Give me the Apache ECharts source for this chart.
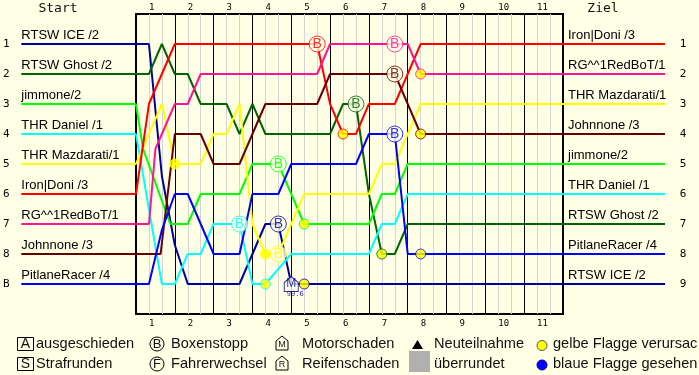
<!DOCTYPE html>
<html><head><meta charset="utf-8">
<script src="https://cdn.jsdelivr.net/npm/echarts@6/dist/echarts.min.js"></script>
<style>html,body{margin:0;padding:0;background:#ffffe6;}#c{width:699px;height:375px;}</style>
</head><body><div id="c"></div>
<script>
// ---------- DATA ----------
const lapLabels = ['1','2','3','4','5','6','7','8','9','10','11'];
const startOrder = ['RTSW ICE /2','RTSW Ghost /2','jimmone/2','THR Daniel /1','THR Mazdarati/1','Iron|Doni /3','RG^^1RedBoT/1','Johnnone /3','PitlaneRacer /4'];
const finishOrder = ['Iron|Doni /3','RG^^1RedBoT/1','THR Mazdarati/1','Johnnone /3','jimmone/2','THR Daniel /1','RTSW Ghost /2','PitlaneRacer /4','RTSW ICE /2'];
const startRowLabels = ['1','2','3','4','5','6','7','8','B'];
const finishRowLabels = ['1','2','3','4','5','6','7','8','9'];
// [time in thirds of a lap, position]
const pathIce = [[0,1],[1,1],[2,5.4],[3,7.7],[4,9],[8,9],[10,7],[11,7],[12,9],[33,9]];
const pathGhost = [[0,2],[1,2],[2,1],[3,2],[4,2],[5,3],[7,3],[8,4],[9,3],[10,4],[15,4],[16,3],[17,3],[18,6],[19,8],[20,8],[21,7],[33,7]];
const pathJimmone = [[0,3],[0.55,4.5],[2.65,7],[4,7],[5,6],[8,6],[9,5],[11,5],[13,7],[18,7],[19,6],[20,6],[21,5],[33,5]];
const pathDaniel = [[0,4],[2,9],[3,9],[4,8],[5,8],[6,7],[8,7],[9,9],[10,9],[12,8],[18,8],[19,7],[20,7],[21,6],[33,6]];
const pathMazdarati = [[0,5],[2,3],[3,5],[5,5],[6,4],[7,4],[8,3],[9,7],[10,8],[11,8],[13,6],[18,6],[19,5],[20,5],[22,3],[33,3]];
const pathDoni = [[0,6],[1,3],[3,1],[14,1],[15,3],[16,4],[17,4],[18,3],[20,3],[22,1],[33,1]];
const pathRedBot = [[0,7],[1,7],[1.5,4.5],[3,3],[4,3],[5,2],[14,2],[15,1],[21,1],[22,2],[33,2]];
const pathJohnnone = [[0,8],[1.9,8],[3,4],[5,4],[6,5],[8,5],[10,3],[14,3],[15,2],[20,2],[22,4],[33,4]];
const pathPitlane = [[0,9],[1,9],[2,7.2],[3,6],[4,6],[6,8],[8,8],[9,6],[11,6],[12,5],[17,5],[18,4],[20,4],[21,8],[22,8],[33,8]];
const boxStops = [['Iron|Doni /3',14,1],['RG^^1RedBoT/1',20,1],['Johnnone /3',20,2],['RTSW Ghost /2',17,3],['PitlaneRacer /4',20,4],['jimmone/2',11,5],['THR Daniel /1',8,7],['RTSW ICE /2',11,7],['THR Mazdarati/1',11,8]];
const yellowFlags = [['THR Mazdarati/1',3,5],['Iron|Doni /3',16,4],['RG^^1RedBoT/1',22,2],['Johnnone /3',22,4],['RTSW Ghost /2',19,8],['PitlaneRacer /4',22,8],['THR Mazdarati/1',10,8],['THR Daniel /1',10,9],['jimmone/2',13,7],['RTSW ICE /2',13,9]];
const engineFailures = [['RTSW ICE /2',12,9,'99.6']];
const legendRow1 = ['ausgeschieden','Boxenstopp','Motorschaden','Neuteilnahme','gelbe Flagge verursac'];
const legendRow2 = ['Strafrunden','Fahrerwechsel','Reifenschaden','überrundet','blaue Flagge gesehen'];

// ---------- STYLE ----------
const BG = '#ffffe6';
const paths = {
  'RTSW ICE /2': pathIce, 'RTSW Ghost /2': pathGhost, 'jimmone/2': pathJimmone,
  'THR Daniel /1': pathDaniel, 'THR Mazdarati/1': pathMazdarati, 'Iron|Doni /3': pathDoni,
  'RG^^1RedBoT/1': pathRedBot, 'Johnnone /3': pathJohnnone, 'PitlaneRacer /4': pathPitlane
};
const colors = {
  'RTSW ICE /2': '#00009c', 'RTSW Ghost /2': '#006400', 'jimmone/2': '#00ff00',
  'THR Daniel /1': '#00ffff', 'THR Mazdarati/1': '#ffff00', 'Iron|Doni /3': '#ff0000',
  'RG^^1RedBoT/1': '#ff1493', 'Johnnone /3': '#660000', 'PitlaneRacer /4': '#0000ff'
};
const SANS = '"Liberation Sans", Arial, sans-serif';
const MONO = '"DejaVu Sans Mono", monospace';
const GRID = {top: 14, height: 300};

const chart = echarts.init(document.getElementById('c'), null, {renderer: 'canvas'});
const series = [];
Object.keys(paths).forEach(name => {
  const c = colors[name];
  series.push({type: 'line', name, xAxisIndex: 0, yAxisIndex: 0, data: paths[name],
    symbol: 'none', lineStyle: {color: c, width: 2}, z: 2, silent: true});
});
startOrder.forEach((name, i) => {
  series.push({type: 'line', xAxisIndex: 3, yAxisIndex: 1, symbol: 'circle', symbolSize: 0, showSymbol: true,
    lineStyle: {color: colors[name], width: 2}, itemStyle: {color: colors[name]},
    data: [{value: [0, i + 1], label: {show: true, formatter: name, position: [0, -2], align: 'left', verticalAlign: 'bottom',
      fontFamily: SANS, fontSize: 13, color: '#000'}}, [1, i + 1]]});
});
finishOrder.forEach((name, i) => {
  series.push({type: 'line', xAxisIndex: 4, yAxisIndex: 2, symbol: 'circle', symbolSize: 0, showSymbol: true,
    lineStyle: {color: colors[name], width: 2}, itemStyle: {color: colors[name]},
    data: [{value: [0, i + 1], label: {show: true, formatter: name, position: [5, -2], align: 'left', verticalAlign: 'bottom',
      fontFamily: SANS, fontSize: 13, color: '#000'}}, [1, i + 1]]});
});
series.push({type: 'scatter', xAxisIndex: 0, yAxisIndex: 0, z: 5, symbol: 'circle', symbolSize: 16,
  data: boxStops.map(b => ({value: [b[1], b[2]], itemStyle: {color: BG, borderColor: colors[b[0]], borderWidth: 1},
    label: {show: true, formatter: 'B', position: 'inside', color: colors[b[0]], fontFamily: SANS, fontSize: 14}}))});
series.push({type: 'scatter', xAxisIndex: 0, yAxisIndex: 0, z: 5, symbol: 'circle', symbolSize: 10,
  data: yellowFlags.map(b => ({value: [b[1], b[2]], itemStyle: {color: '#ffff00', borderColor: colors[b[0]], borderWidth: 1}}))});
series.push({type: 'scatter', xAxisIndex: 0, yAxisIndex: 0, z: 5, symbol: 'path://M0,4 L5,0 L10,4 L10,10 L0,10 Z', symbolSize: [14, 15],
  data: engineFailures.map(b => ({value: [b[1], b[2]], itemStyle: {color: BG, borderColor: colors[b[0]], borderWidth: 1},
    label: {show: true, formatter: 'M', position: 'inside', color: colors[b[0]], fontFamily: SANS, fontSize: 12}}))});
series.push({type: 'scatter', xAxisIndex: 0, yAxisIndex: 0, z: 5, symbol: 'circle', symbolSize: 0,
  data: engineFailures.map(b => ({value: [b[1], b[2]],
    label: {show: true, formatter: b[3], position: [4, 7], align: 'center', verticalAlign: 'top', color: colors[b[0]], fontFamily: MONO, fontSize: 7}}))});

const lapFmt = v => (v % 3 === 1 ? lapLabels[(v - 1) / 3] : '');
const hidden = {axisLine: {show: false}, axisTick: {show: false}, axisLabel: {show: false}, splitLine: {show: false}};

const legendTextX = [36, 171, 302, 434, 553];
const rowY = [344, 364];
const graphic = [];
const txt = (x, y, t, size, fam, align) => ({type: 'text', x, y, style: {text: t, font: size + 'px ' + fam, fill: '#111',
  align: align || 'left', verticalAlign: 'middle', textAlign: align || 'left', textVerticalAlign: 'middle'}});
graphic.push(txt(58, 9, 'Start', 13, MONO, 'center'));
graphic.push(txt(603, 9, 'Ziel', 13, MONO, 'center'));
// legend icons
graphic.push({type: 'rect', shape: {x: 17.5, y: 337.5, width: 16, height: 13}, style: {fill: 'none', stroke: '#000', lineWidth: 1}});
graphic.push(txt(25.5, 344.5, 'A', 14, SANS, 'center'));
graphic.push({type: 'rect', shape: {x: 17.5, y: 357.5, width: 16, height: 13}, style: {fill: 'none', stroke: '#000', lineWidth: 1}});
graphic.push(txt(25.5, 364.5, 'S', 14, SANS, 'center'));
graphic.push({type: 'circle', shape: {cx: 157, cy: 344, r: 7}, style: {fill: 'none', stroke: '#000', lineWidth: 1}});
graphic.push(txt(157, 344.5, 'B', 13, SANS, 'center'));
graphic.push({type: 'circle', shape: {cx: 157, cy: 364, r: 7}, style: {fill: 'none', stroke: '#000', lineWidth: 1}});
graphic.push(txt(157, 364.5, 'F', 13, SANS, 'center'));
graphic.push({type: 'polygon', shape: {points: [[276, 341], [282, 336], [288, 341], [288, 350], [276, 350]]}, style: {fill: 'none', stroke: '#000', lineWidth: 1}});
graphic.push(txt(282, 345, 'M', 9, SANS, 'center'));
graphic.push({type: 'polygon', shape: {points: [[276, 361], [282, 356], [288, 361], [288, 370], [276, 370]]}, style: {fill: 'none', stroke: '#000', lineWidth: 1}});
graphic.push(txt(282, 365, 'R', 9, SANS, 'center'));
graphic.push({type: 'polygon', shape: {points: [[412, 349], [417.5, 340], [423, 349]]}, style: {fill: '#000'}});
graphic.push({type: 'rect', shape: {x: 409, y: 351, width: 21, height: 21}, style: {fill: '#b0b0b0'}});
graphic.push({type: 'circle', shape: {cx: 542, cy: 345.5, r: 5}, style: {fill: '#ffff00', stroke: '#555', lineWidth: 1}});
graphic.push({type: 'circle', shape: {cx: 542, cy: 365, r: 5}, style: {fill: '#0000ff', stroke: '#0000aa', lineWidth: 1}});
legendRow1.forEach((t, i) => graphic.push(txt(legendTextX[i], rowY[0], t, 14.6, SANS)));
legendRow2.forEach((t, i) => graphic.push(txt(legendTextX[i], rowY[1], t, 14.6, SANS)));

chart.setOption({
  animation: false,
  backgroundColor: BG,
  grid: [
    {left: 136, width: 427, top: GRID.top, height: GRID.height, show: true, borderColor: '#000', borderWidth: 2, backgroundColor: 'transparent'},
    {left: 20, width: 116, top: GRID.top, height: GRID.height},
    {left: 563, width: 102, top: GRID.top, height: GRID.height}
  ],
  xAxis: [
    {gridIndex: 0, type: 'value', min: 0, max: 33, interval: 1, position: 'bottom',
      axisLine: {show: false}, axisTick: {show: false},
      splitLine: {show: true, lineStyle: {color: '#d4d4d4', width: 1}},
      axisLabel: {show: true, formatter: lapFmt, align: 'left', margin: 5, fontFamily: MONO, fontSize: 9, color: '#000', showMinLabel: true, showMaxLabel: true}},
    {gridIndex: 0, type: 'value', min: 0, max: 33, interval: 1, position: 'top',
      axisLine: {show: false}, axisTick: {show: false}, splitLine: {show: false},
      axisLabel: {show: true, formatter: lapFmt, align: 'left', margin: 2, fontFamily: MONO, fontSize: 9, color: '#000'}},
    {gridIndex: 0, type: 'value', min: 0, max: 33, interval: 3, position: 'bottom', z: 1,
      axisLine: {show: false}, axisTick: {show: false}, axisLabel: {show: false},
      splitLine: {show: true, lineStyle: {color: '#000', width: 1}}},
    Object.assign({gridIndex: 1, type: 'value', min: 0, max: 1}, hidden),
    Object.assign({gridIndex: 2, type: 'value', min: 0, max: 1}, hidden)
  ],
  yAxis: [
    Object.assign({gridIndex: 0, type: 'value', min: 0, max: 10, inverse: true}, hidden),
    {gridIndex: 1, type: 'value', min: 0, max: 10, interval: 1, inverse: true, position: 'left',
      axisLine: {show: false}, axisTick: {show: false}, splitLine: {show: false},
      axisLabel: {formatter: v => startRowLabels[v - 1] || '', align: 'center', margin: 15, fontFamily: MONO, fontSize: 11, color: '#000'}},
    {gridIndex: 2, type: 'value', min: 0, max: 10, interval: 1, inverse: true, position: 'right',
      axisLine: {show: false}, axisTick: {show: false}, splitLine: {show: false},
      axisLabel: {formatter: v => finishRowLabels[v - 1] || '', align: 'center', margin: 18, fontFamily: MONO, fontSize: 11, color: '#000'}}
  ],
  graphic: graphic,
  series: series
});
</script></body></html>
